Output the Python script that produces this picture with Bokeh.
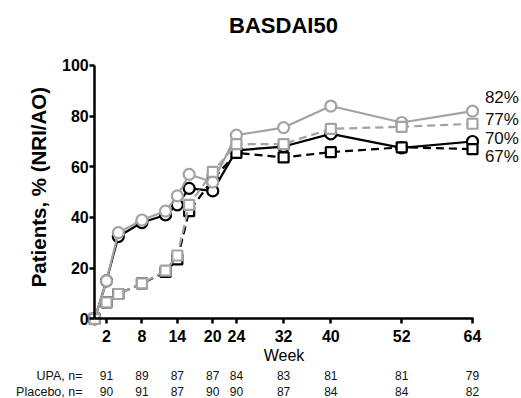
import math
from bokeh.plotting import figure
from bokeh.models import LinearAxis, FixedTicker, Range1d, Label
from bokeh.embed import file_html
from bokeh.resources import INLINE

# ---- data ----
weeks = [0, 2, 4, 8, 12, 14, 16, 20, 24, 32, 40, 52, 64]
upa_ao = [0, 15, 34, 39, 42.5, 48.5, 57, 54, 72.5, 75.5, 84, 77.5, 82]
upa_nri = [0, 15, 32.5, 38, 41, 45, 51.5, 50.5, 66.5, 68, 73, 67.5, 70]
pbo_ao = [0, 6.5, 9.8, 14, 19, 25, 45, 58, 69, 69, 75, 75.8, 77]
pbo_nri = [0, 6.5, 9.8, 14, 18.5, 23.5, 42.5, 55, 65.5, 63.7, 65.8, 67.7, 67]

tick_weeks = [2, 8, 14, 20, 24, 32, 40, 52, 64]
y_ticks = [0, 20, 40, 60, 80, 100]
upa_n = [91, 89, 87, 87, 84, 83, 81, 81, 79]
pbo_n = [90, 91, 87, 90, 90, 87, 84, 84, 82]
end_labels = ["82%", "77%", "70%", "67%"]
row_labels = ["UPA, n=", "Placebo, n="]
title_text = "BASDAI50"
x_title = "Week"
y_title = "Patients, % (NRI/AO)"

# ---- layout constants (data units of the full-canvas frame) ----
FONT = "Liberation Sans"
BLACK = "#000000"
GREY = "#a3a3a3"
TXT = "#111111"
end_label_y = [87.5, 78.7, 71.2, 64.1]
end_label_x = 66.1
row_y = [-22.4, -28.7]
row_label_x = -2.07
title_pos = (31.98, 115.6)
ytitle_pos = (-9.52, 52.0)

p = figure(width=521, height=398,
           x_range=Range1d(-15.96, 72.30), y_range=Range1d(-31.46, 125.66),
           x_axis_type=None, y_axis_type=None,
           output_backend="svg", toolbar_location=None,
           min_border=0)
p.outline_line_color = None
p.background_fill_color = "white"
p.border_fill_color = "white"

xaxis = LinearAxis(ticker=FixedTicker(ticks=tick_weeks), fixed_location=0,
                   bounds=(0, 64.2), axis_label=x_title)
yaxis = LinearAxis(ticker=FixedTicker(ticks=y_ticks), fixed_location=0,
                   bounds=(0, 100))
for ax in (xaxis, yaxis):
    ax.axis_line_width = 2.5
    ax.axis_line_color = BLACK
    ax.major_tick_line_width = 2.5
    ax.major_tick_line_color = BLACK
    ax.major_tick_out = 5
    ax.major_tick_in = 0
    ax.minor_tick_line_color = None
    ax.major_label_text_font = FONT
    ax.major_label_text_font_style = "bold"
    ax.major_label_text_color = BLACK
    ax.axis_label_text_font = FONT
    ax.axis_label_text_color = BLACK
xaxis.major_label_text_font_size = "16px"
xaxis.major_label_standoff = 6
xaxis.axis_label_text_font_size = "16px"
xaxis.axis_label_text_font_style = "normal"
xaxis.axis_label_standoff = 2
yaxis.major_label_text_font_size = "16px"
yaxis.major_label_standoff = 1
p.add_layout(xaxis, "below")
p.add_layout(yaxis, "left")

p.add_layout(Label(x=title_pos[0], y=title_pos[1], text=title_text,
                   text_align="center", text_baseline="middle",
                   text_font=FONT, text_font_size="22px",
                   text_font_style="bold", text_color=BLACK))
p.add_layout(Label(x=ytitle_pos[0], y=ytitle_pos[1], text=y_title,
                   angle=math.pi / 2, text_align="center",
                   text_baseline="middle", text_font=FONT,
                   text_font_size="20.5px", text_font_style="bold",
                   text_color=BLACK))

series = [
    (upa_nri, BLACK, "solid", "circle"),
    (pbo_nri, BLACK, "8 5", "square"),
    (upa_ao, GREY, "solid", "circle"),
    (pbo_ao, GREY, "8 5", "square"),
]
for vals, col, dash, mk in series:
    p.line(weeks, vals, line_color=col, line_width=2.2, line_dash=dash)
    p.scatter(weeks, vals, marker=mk, size=11 if mk == "circle" else 10,
              fill_color="white", line_color=col, line_width=2.2)

for txt, yy in zip(end_labels, end_label_y):
    p.add_layout(Label(x=end_label_x, y=yy, text=txt, text_align="left",
                       text_baseline="middle", text_font=FONT,
                       text_font_size="17px", text_color=TXT))

for lab, ns, yy in zip(row_labels, [upa_n, pbo_n], row_y):
    p.add_layout(Label(x=row_label_x, y=yy, text=lab, text_align="right",
                       text_baseline="middle", text_font=FONT,
                       text_font_size="12.5px", text_color=TXT))
    for w, n in zip(tick_weeks, ns):
        p.add_layout(Label(x=w, y=yy, text=str(n), text_align="center",
                           text_baseline="middle", text_font=FONT,
                           text_font_size="12px", text_color=TXT))

open("out.html", "w").write(file_html(p, INLINE))
